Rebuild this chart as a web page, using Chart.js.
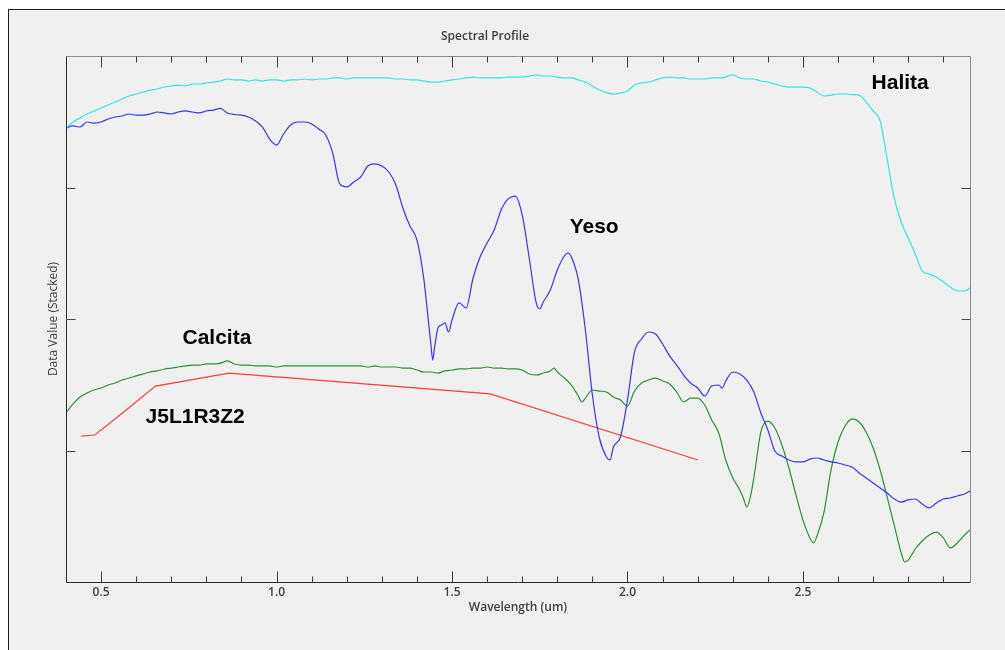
<!DOCTYPE html>
<html>
<head>
<meta charset="utf-8">
<title>Spectral Profile</title>
<script src="https://cdn.jsdelivr.net/npm/chart.js@4.4.1/dist/chart.umd.min.js"></script>
<style>
  html, body { margin: 0; padding: 0; width: 1005px; height: 650px; overflow: hidden; background: #ffffff; }
  #panel { position: absolute; left: 8px; top: 9px; width: 1100px; height: 700px; background: #f0f0f0;
           border-left: 1px solid #1e1e1e; border-top: 1px solid #1e1e1e; }
  #wrap { position: absolute; left: 0; top: 0; width: 1005px; height: 650px; }
</style>
</head>
<body>
<div id="panel"></div>
<div id="wrap"><canvas id="chart" width="1005" height="650"></canvas></div>
<script>
// Wavelength axis (um)
const xMin = 0.4;
const xMax = 2.976;
const xMajorTicks = [0.5, 1.0, 1.5, 2.0, 2.5];
const xMinorTicks = [0.6, 0.7, 0.8, 0.9, 1.1, 1.2, 1.3, 1.4, 1.6, 1.7, 1.8, 1.9,
                     2.1, 2.2, 2.3, 2.4, 2.6, 2.7, 2.8, 2.9];
// Stacked data value axis (unlabelled)
const yMin = 0;
const yMax = 4;
const yTicks = [1, 2, 3];

// Library spectra sampling grid (um)
const gridWl = [
  0.40, 0.42, 0.44, 0.46, 0.48, 0.50, 0.52, 0.54, 0.56, 0.58,
  0.60, 0.62, 0.64, 0.66, 0.68, 0.70, 0.72, 0.74, 0.76, 0.78,
  0.80, 0.82, 0.84, 0.86, 0.88, 0.90, 0.92, 0.94, 0.96, 0.98,
  1.00, 1.02, 1.04, 1.06, 1.08, 1.10, 1.12, 1.14, 1.16, 1.18,
  1.20, 1.22, 1.24, 1.26, 1.28, 1.30, 1.32, 1.34, 1.36, 1.38,
  1.40, 1.42, 1.44, 1.46, 1.48, 1.50, 1.52, 1.54, 1.56, 1.58,
  1.60, 1.62, 1.64, 1.66, 1.68, 1.70, 1.72, 1.74, 1.76, 1.78,
  1.80, 1.82, 1.84, 1.86, 1.88, 1.90, 1.92, 1.94, 1.96, 1.98,
  2.00, 2.02, 2.04, 2.06, 2.08, 2.10, 2.12, 2.14, 2.16, 2.18,
  2.20, 2.22, 2.24, 2.26, 2.28, 2.30, 2.32, 2.34, 2.36, 2.38,
  2.40, 2.42, 2.44, 2.46, 2.48, 2.50, 2.52, 2.54, 2.56, 2.58,
  2.60, 2.62, 2.64, 2.66, 2.68, 2.70, 2.72, 2.74, 2.76, 2.78,
  2.80, 2.82, 2.84, 2.86, 2.88, 2.90, 2.92, 2.94, 2.96, 2.976
];

// Halita (stacked)
const halita = [
  3.452, 3.498, 3.529, 3.559, 3.582, 3.605, 3.627, 3.650, 3.673, 3.696,
  3.711, 3.726, 3.741, 3.749, 3.764, 3.772, 3.779, 3.772, 3.787, 3.787,
  3.795, 3.802, 3.810, 3.825, 3.818, 3.818, 3.810, 3.818, 3.810, 3.818,
  3.818, 3.810, 3.818, 3.818, 3.825, 3.818, 3.825, 3.825, 3.833, 3.833,
  3.825, 3.833, 3.833, 3.833, 3.833, 3.833, 3.833, 3.825, 3.825, 3.818,
  3.818, 3.810, 3.802, 3.802, 3.810, 3.818, 3.825, 3.833, 3.840, 3.833,
  3.833, 3.833, 3.833, 3.840, 3.840, 3.840, 3.848, 3.856, 3.848, 3.848,
  3.840, 3.833, 3.833, 3.818, 3.802, 3.772, 3.741, 3.722, 3.711, 3.719,
  3.734, 3.779, 3.795, 3.802, 3.818, 3.833, 3.840, 3.833, 3.833, 3.825,
  3.825, 3.825, 3.833, 3.833, 3.840, 3.856, 3.833, 3.825, 3.825, 3.810,
  3.802, 3.787, 3.772, 3.764, 3.764, 3.764, 3.757, 3.726, 3.696, 3.703,
  3.711, 3.711, 3.707, 3.703, 3.650, 3.582, 3.506, 3.217, 2.920, 2.738,
  2.616, 2.494, 2.365, 2.342, 2.319, 2.281, 2.243, 2.213, 2.213, 2.236
];

// Yeso (gypsum, stacked)
const yesoWl = [
  0.40, 0.42, 0.44, 0.46, 0.48, 0.50, 0.52, 0.54, 0.56, 0.58,
  0.60, 0.62, 0.64, 0.66, 0.68, 0.70, 0.72, 0.74, 0.76, 0.78,
  0.80, 0.82, 0.84, 0.86, 0.88, 0.90, 0.92, 0.94, 0.96, 0.98,
  1.00, 1.02, 1.04, 1.06, 1.08, 1.10, 1.12, 1.14, 1.16, 1.18,
  1.20, 1.22, 1.24, 1.26, 1.28, 1.30, 1.32, 1.34, 1.36, 1.38,
  1.40, 1.42, 1.43, 1.44, 1.445, 1.45, 1.46, 1.47, 1.48, 1.49,
  1.50, 1.52, 1.54, 1.56, 1.58, 1.60, 1.62, 1.64, 1.66, 1.68,
  1.70, 1.72, 1.74, 1.75, 1.76, 1.78, 1.80, 1.82, 1.83, 1.84,
  1.86, 1.88, 1.90, 1.92, 1.94, 1.95, 1.96, 1.98, 2.00, 2.02,
  2.04, 2.06, 2.08, 2.10, 2.12, 2.14, 2.16, 2.18, 2.20, 2.22,
  2.24, 2.26, 2.27, 2.28, 2.30, 2.32, 2.34, 2.36, 2.38, 2.40,
  2.42, 2.44, 2.46, 2.48, 2.50, 2.52, 2.54, 2.56, 2.58, 2.60,
  2.62, 2.64, 2.66, 2.68, 2.70, 2.72, 2.74, 2.76, 2.78, 2.80,
  2.82, 2.84, 2.86, 2.88, 2.90, 2.92, 2.94, 2.96, 2.976
];
const yeso = [
  3.452, 3.468, 3.460, 3.498, 3.490, 3.498, 3.521, 3.536, 3.544, 3.559,
  3.551, 3.551, 3.559, 3.574, 3.567, 3.559, 3.574, 3.582, 3.574, 3.567,
  3.582, 3.589, 3.601, 3.567, 3.555, 3.551, 3.536, 3.506, 3.460, 3.369,
  3.323, 3.407, 3.475, 3.498, 3.498, 3.483, 3.445, 3.399, 3.262, 3.027,
  3.004, 3.042, 3.080, 3.163, 3.179, 3.163, 3.118, 3.019, 2.844, 2.707,
  2.601, 2.297, 2.053, 1.802, 1.688, 1.779, 1.932, 1.954, 1.970, 1.901,
  1.992, 2.122, 2.084, 2.312, 2.471, 2.578, 2.677, 2.829, 2.913, 2.935,
  2.791, 2.464, 2.122, 2.076, 2.129, 2.221, 2.373, 2.479, 2.502, 2.471,
  2.297, 1.916, 1.422, 1.095, 0.951, 0.928, 1.027, 1.103, 1.384, 1.749,
  1.848, 1.901, 1.886, 1.810, 1.719, 1.650, 1.574, 1.513, 1.475, 1.414,
  1.490, 1.498, 1.475, 1.529, 1.597, 1.582, 1.536, 1.445, 1.285, 1.156,
  0.996, 0.958, 0.928, 0.913, 0.913, 0.935, 0.943, 0.928, 0.913, 0.905,
  0.890, 0.875, 0.829, 0.791, 0.753, 0.715, 0.677, 0.631, 0.608, 0.624,
  0.631, 0.593, 0.563, 0.601, 0.631, 0.639, 0.654, 0.669, 0.692
];

// Calcita (calcite, stacked)
const calcitaWl = [
  0.40, 0.42, 0.44, 0.46, 0.48, 0.50, 0.52, 0.54, 0.56, 0.58,
  0.60, 0.62, 0.64, 0.66, 0.68, 0.70, 0.72, 0.74, 0.76, 0.78,
  0.80, 0.82, 0.84, 0.86, 0.88, 0.90, 0.92, 0.94, 0.96, 0.98,
  1.00, 1.02, 1.04, 1.06, 1.08, 1.10, 1.12, 1.14, 1.16, 1.18,
  1.20, 1.22, 1.24, 1.26, 1.28, 1.30, 1.32, 1.34, 1.36, 1.38,
  1.40, 1.42, 1.44, 1.46, 1.48, 1.50, 1.52, 1.54, 1.56, 1.58,
  1.60, 1.62, 1.64, 1.66, 1.68, 1.70, 1.72, 1.74, 1.76, 1.78,
  1.79, 1.80, 1.82, 1.84, 1.86, 1.87, 1.88, 1.90, 1.92, 1.94,
  1.96, 1.98, 2.00, 2.02, 2.04, 2.06, 2.08, 2.10, 2.12, 2.14,
  2.16, 2.18, 2.20, 2.22, 2.24, 2.26, 2.28, 2.30, 2.32, 2.33,
  2.34, 2.35, 2.36, 2.38, 2.39, 2.40, 2.42, 2.44, 2.46, 2.48,
  2.50, 2.52, 2.53, 2.54, 2.56, 2.58, 2.60, 2.62, 2.64, 2.66,
  2.68, 2.70, 2.72, 2.74, 2.76, 2.78, 2.79, 2.80, 2.82, 2.84,
  2.86, 2.88, 2.90, 2.92, 2.94, 2.96, 2.976
];
const calcita = [
  1.285, 1.354, 1.407, 1.437, 1.460, 1.475, 1.498, 1.513, 1.536, 1.551,
  1.567, 1.582, 1.597, 1.605, 1.620, 1.627, 1.635, 1.643, 1.650, 1.650,
  1.658, 1.658, 1.665, 1.681, 1.658, 1.650, 1.650, 1.643, 1.643, 1.643,
  1.635, 1.643, 1.643, 1.643, 1.643, 1.643, 1.643, 1.643, 1.643, 1.643,
  1.643, 1.643, 1.643, 1.635, 1.643, 1.635, 1.635, 1.635, 1.627, 1.627,
  1.612, 1.597, 1.597, 1.589, 1.605, 1.612, 1.620, 1.620, 1.627, 1.627,
  1.635, 1.627, 1.627, 1.620, 1.620, 1.612, 1.582, 1.574, 1.589, 1.605,
  1.627, 1.597, 1.551, 1.498, 1.414, 1.369, 1.399, 1.460, 1.452, 1.445,
  1.407, 1.384, 1.338, 1.452, 1.513, 1.536, 1.551, 1.529, 1.506, 1.445,
  1.369, 1.399, 1.399, 1.346, 1.232, 1.133, 0.928, 0.791, 0.700, 0.639,
  0.570, 0.646, 0.791, 1.141, 1.209, 1.224, 1.171, 1.042, 0.867, 0.662,
  0.471, 0.335, 0.297, 0.350, 0.532, 0.852, 1.065, 1.186, 1.240, 1.217,
  1.141, 1.019, 0.852, 0.646, 0.433, 0.221, 0.152, 0.167, 0.251, 0.312,
  0.357, 0.380, 0.335, 0.259, 0.297, 0.357, 0.395
];

// J5L1R3Z2 pixel spectrum at the sensor band centres (um)
const pixelBands = [0.443, 0.482, 0.561, 0.655, 0.865, 1.609, 2.201];
const pixelValues = [1.110, 1.118, 1.285, 1.490, 1.589, 1.430, 0.928];

// Series names written beside each curve
const seriesNames = ['Halita', 'Yeso', 'Calcita', 'J5L1R3Z2'];

const toPoints = (wl, vals) => wl.map((w, i) => ({ x: w, y: vals[i] }));

// Where each series name sits, in axis units
const nameAnchors = [
  { x: 2.777, y: 3.795 },
  { x: 1.905, y: 2.700 },
  { x: 0.830, y: 1.856 },
  { x: 0.768, y: 1.255 }
];

const frameAndTicks = {
  id: 'frameAndTicks',
  afterDatasetsDraw(chart) {
    const { ctx, chartArea: a, scales: { x, y } } = chart;
    const L = a.left + 0.5, R = a.right + 0.5, T = a.top + 0.5, B = a.bottom + 0.5;
    ctx.save();
    ctx.lineWidth = 1;
    // top and right edges
    ctx.strokeStyle = '#8c8c8c';
    ctx.beginPath();
    ctx.moveTo(L, T); ctx.lineTo(R, T); ctx.lineTo(R, B);
    ctx.stroke();
    // left and bottom axis lines
    ctx.strokeStyle = '#2b2b2b';
    ctx.beginPath();
    ctx.moveTo(L, T); ctx.lineTo(L, B); ctx.lineTo(R, B);
    ctx.stroke();
    // wavelength ticks, pointing inwards from bottom and top
    const xt = (v, len, col) => {
      const px = Math.round(x.getPixelForValue(v)) + 0.5;
      ctx.strokeStyle = col;
      ctx.beginPath();
      ctx.moveTo(px, B); ctx.lineTo(px, B - len);
      ctx.moveTo(px, T); ctx.lineTo(px, T + len);
      ctx.stroke();
    };
    xMajorTicks.forEach(v => xt(v, 11, '#3a3a3a'));
    xMinorTicks.forEach(v => xt(v, 6, '#3a3a3a'));
    // value ticks on both sides
    ctx.strokeStyle = '#4a4a4a';
    yTicks.forEach(v => {
      const py = Math.round(y.getPixelForValue(v)) + 0.5;
      ctx.beginPath();
      ctx.moveTo(L, py); ctx.lineTo(L + 9, py);
      ctx.moveTo(R, py); ctx.lineTo(R - 9, py);
      ctx.stroke();
    });
    // series names
    ctx.fillStyle = '#000000';
    ctx.font = 'bold 21px "Liberation Sans", Arial, sans-serif';
    ctx.textAlign = 'center';
    ctx.textBaseline = 'middle';
    seriesNames.forEach((name, i) => {
      const p = nameAnchors[i];
      ctx.fillText(name, x.getPixelForValue(p.x), y.getPixelForValue(p.y));
    });
    ctx.restore();
  }
};

const textFont = { family: '"Open Sans", sans-serif', size: 12, weight: '600' };

new Chart(document.getElementById('chart'), {
  type: 'line',
  data: {
    datasets: [
      { label: seriesNames[0], data: toPoints(gridWl, halita), borderColor: '#2ee6e6',
        borderWidth: 1.2, pointRadius: 0, fill: false, cubicInterpolationMode: 'monotone' },
      { label: seriesNames[1], data: toPoints(yesoWl, yeso), borderColor: '#3636f2',
        borderWidth: 1.2, pointRadius: 0, fill: false, cubicInterpolationMode: 'monotone' },
      { label: seriesNames[2], data: toPoints(calcitaWl, calcita), borderColor: '#2f8f2f',
        borderWidth: 1.2, pointRadius: 0, fill: false, cubicInterpolationMode: 'monotone' },
      { label: seriesNames[3], data: toPoints(pixelBands, pixelValues), borderColor: '#ff3b3b',
        borderWidth: 1.2, pointRadius: 0, fill: false, tension: 0 }
    ]
  },
  options: {
    responsive: false,
    animation: false,
    devicePixelRatio: 1,
    layout: { padding: { left: 0, right: 35, top: 0, bottom: 0 } },
    plugins: {
      legend: { display: false },
      tooltip: { enabled: false },
      title: {
        display: true,
        text: 'Spectral Profile',
        color: '#404040',
        font: textFont,
        padding: { top: 29.8, bottom: 11.8 }
      }
    },
    scales: {
      x: {
        type: 'linear',
        min: xMin,
        max: xMax,
        afterBuildTicks: s => { s.ticks = xMajorTicks.map(v => ({ value: v })); },
        afterFit: s => { s.height = 68; },
        grid: { display: false, drawTicks: false },
        border: { display: false },
        ticks: {
          padding: 3.5, color: '#404040', font: textFont, maxRotation: 0, autoSkip: false,
          callback: v => Number(v).toFixed(1)
        },
        title: {
          display: true, text: 'Wavelength (um)', color: '#404040', font: textFont,
          padding: { top: 0, bottom: 34.8 }
        }
      },
      y: {
        type: 'linear',
        min: yMin,
        max: yMax,
        afterFit: s => { s.width = 66; },
        grid: { display: false, drawTicks: false },
        border: { display: false },
        ticks: { display: false },
        title: {
          display: true, text: 'Data Value (Stacked)', color: '#404040',
          font: { family: '"Open Sans", sans-serif', size: 12, weight: 'normal' },
          padding: { top: 46.5, bottom: 0 }
        }
      }
    }
  },
  plugins: [frameAndTicks]
});
</script>
</body>
</html>
